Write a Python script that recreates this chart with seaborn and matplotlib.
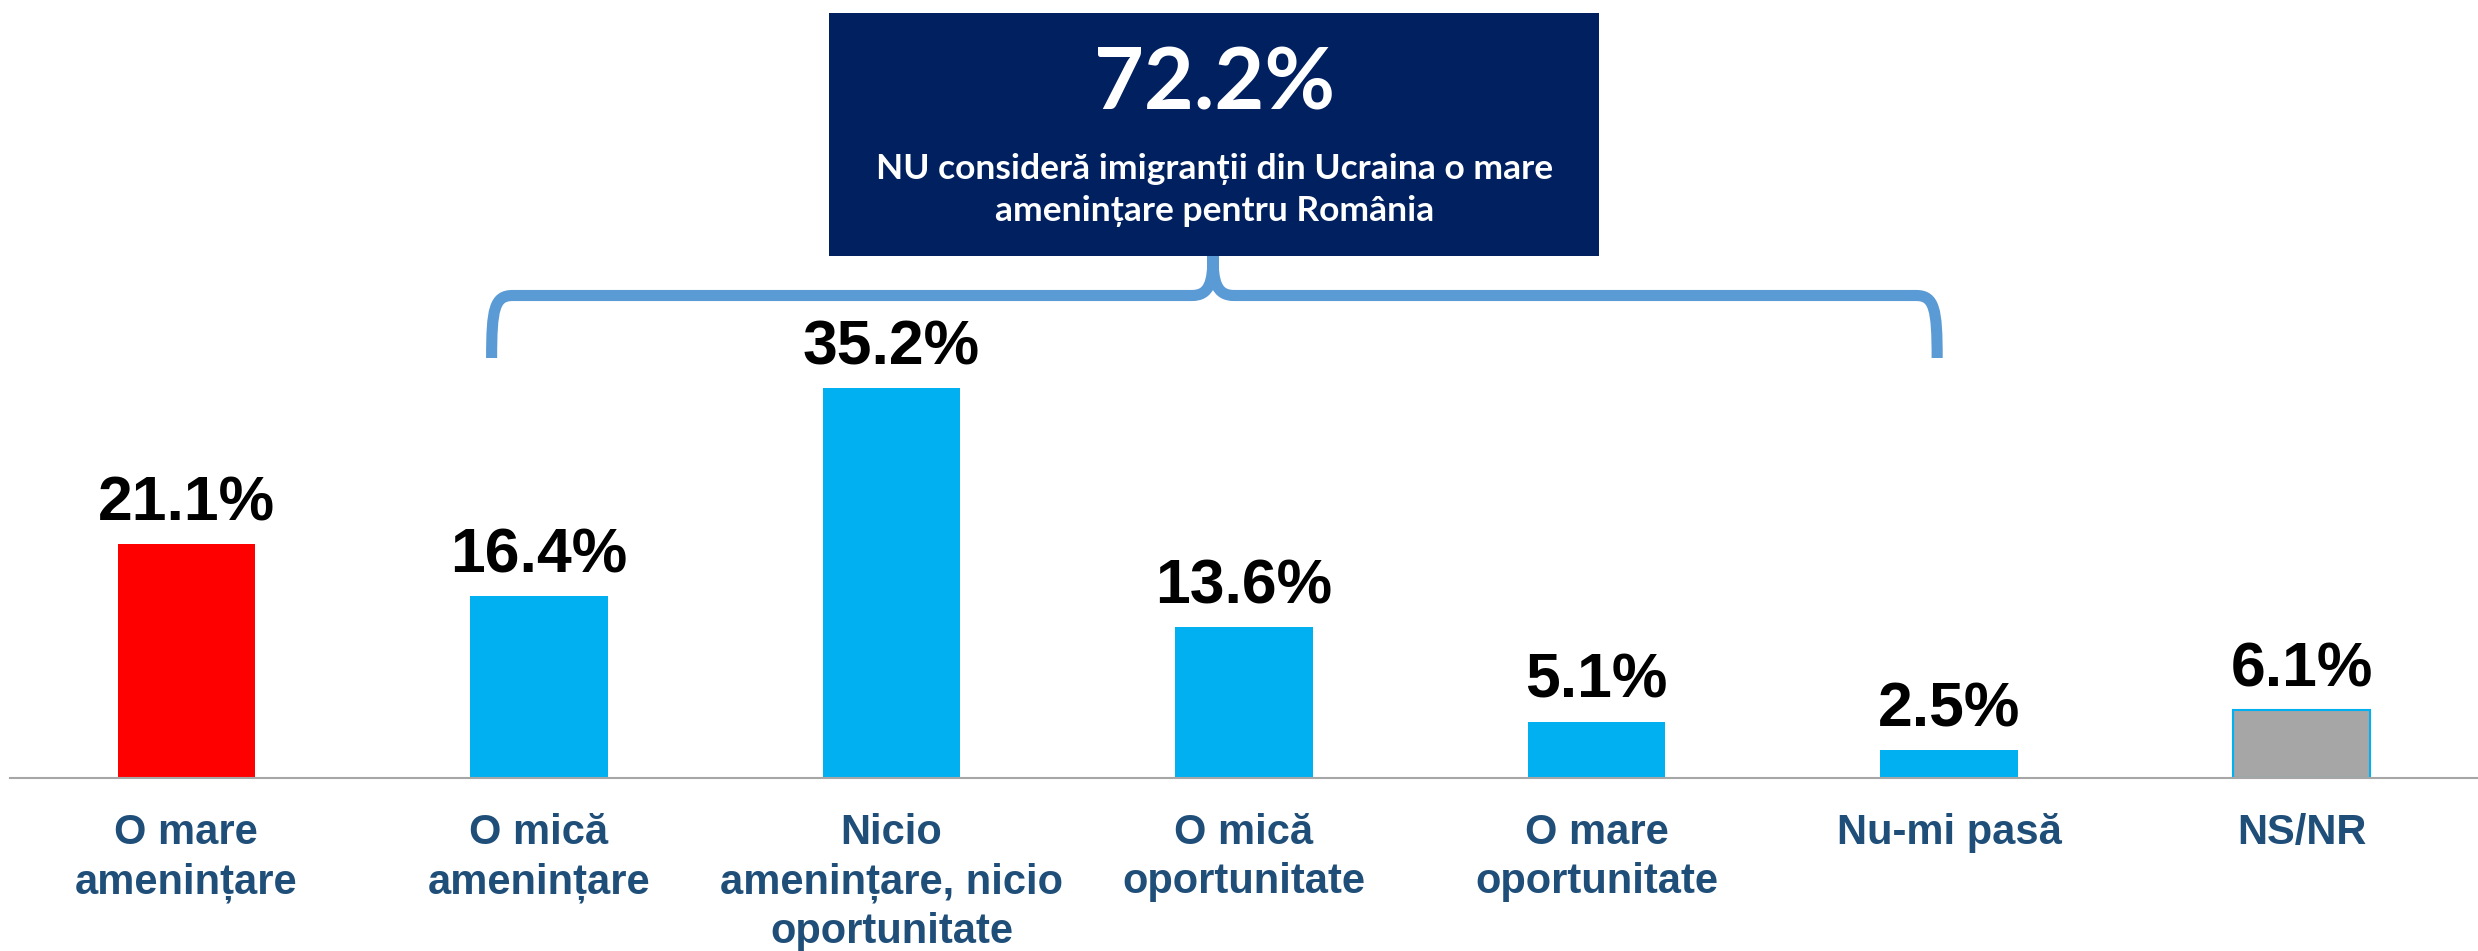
import numpy as np
import matplotlib
matplotlib.use("Agg")
import matplotlib.pyplot as plt
from matplotlib.path import Path
from matplotlib.patches import PathPatch, Rectangle
import seaborn as sns

# ------------------------------- data ----------------------------------
categories = [
    "O mare amenințare",
    "O mică amenințare",
    "Nicio amenințare, nicio oportunitate",
    "O mică oportunitate",
    "O mare oportunitate",
    "Nu-mi pasă",
    "NS/NR",
]
tick_labels = [
    "O mare\namenințare",
    "O mică\namenințare",
    "Nicio\namenințare, nicio\noportunitate",
    "O mică\noportunitate",
    "O mare\noportunitate",
    "Nu-mi pasă",
    "NS/NR",
]
values = [21.1, 16.4, 35.2, 13.6, 5.1, 2.5, 6.1]
bar_colors = ["#FF0000", "#00B0F0", "#00B0F0", "#00B0F0", "#00B0F0", "#00B0F0", "#A6A6A6"]

summary_value = "72.2%"
summary_text = "NU consideră imigranții din Ucraina o mare\namenințare pentru România"
# brace spans the "not a big threat" group (index 1..5)
brace_first, brace_last = 1, 5

# ----------------------------- style -----------------------------------
AXIS_GREY = "#A6A6A6"
LABEL_BLUE = "#1F4E79"
NAVY = "#002060"
BRACE_BLUE = "#5B9BD5"

sns.set_style("white")
plt.rcParams["font.family"] = ["Liberation Sans", "DejaVu Sans"]

W, H, DPI = 2478, 951, 100
fig = plt.figure(figsize=(W / DPI, H / DPI), dpi=DPI)
axis_y_px = 778
ax = fig.add_axes([10 / W, (H - axis_y_px) / H, 2468 / W, axis_y_px / H])

sns.barplot(
    x=categories, y=values, hue=categories, palette=bar_colors,
    saturation=1, width=0.39, legend=False, ax=ax,
)

# NS/NR bar has a thin blue outline
for patch in ax.patches:
    patch.set_linewidth(0)
last = max(ax.patches, key=lambda p: p.get_x())
last.set_edgecolor("#00B0F0")
last.set_linewidth(1.5)

for cont in ax.containers:
    ax.bar_label(cont, fmt="%.1f%%", padding=8, fontsize=45,
                 fontweight="bold", color="black")

px_per_unit = 11.07
ax.set_ylim(0, axis_y_px / px_per_unit)
ax.set_xlim(-0.5, len(categories) - 0.5)
ax.set_yticks([])
ax.set_ylabel("")
ax.set_xlabel("")

ax.set_xticks(range(len(categories)))
ax.set_xticklabels(tick_labels, fontsize=30, fontweight="bold",
                   color=LABEL_BLUE, linespacing=1.3)
ax.set_xticks(np.arange(-0.5, len(categories), 1), minor=True)
ax.tick_params(axis="x", which="major", length=0, pad=25)
ax.tick_params(axis="x", which="minor", length=8.6, width=1.0,
               color=AXIS_GREY, direction="out")

for side in ["top", "left", "right"]:
    ax.spines[side].set_visible(False)
ax.spines["bottom"].set_color(AXIS_GREY)
ax.spines["bottom"].set_linewidth(1.5)


def ypx(p):
    return (axis_y_px - p) / px_per_unit


# ----------------------------- summary box ------------------------------
box_x0, box_x1 = 1.824, 4.008
box_y0, box_y1 = ypx(256), ypx(13)
ax.add_patch(Rectangle((box_x0, box_y0), box_x1 - box_x0, box_y1 - box_y0,
                       facecolor=NAVY, edgecolor="none", clip_on=False, zorder=3))
box_cx = (box_x0 + box_x1) / 2
ax.text(box_cx, ypx(110), summary_value, ha="center", va="baseline",
        fontsize=62, fontweight="bold", color="white",
        family=["Lato", "DejaVu Sans"], zorder=4, clip_on=False)
ax.text(box_cx, ypx(190), summary_text, ha="center", va="center",
        fontsize=25.5, fontweight="bold", color="white", linespacing=1.35,
        family=["Lato", "DejaVu Sans"], zorder=4, clip_on=False)

# ------------------------------- brace ----------------------------------
xl = brace_first - 0.134
xr = brace_last - 0.034
xm = 2.912
y_h = ypx(295.5)
y_leg = ypx(358)
y_top = box_y0
dx, dy = 0.06, 1.2
verts = [
    (xl, y_leg), (xl, y_h - dy), (xl + 0.008, y_h), (xl + dx, y_h),
    (xm - dx, y_h),
    (xm - 0.01, y_h), (xm, y_h + dy), (xm, y_top),
    (xm, y_h + dy), (xm + 0.01, y_h), (xm + dx, y_h),
    (xr - dx, y_h),
    (xr - 0.008, y_h), (xr, y_h - dy), (xr, y_leg),
]
codes = [
    Path.MOVETO, Path.CURVE4, Path.CURVE4, Path.CURVE4,
    Path.LINETO,
    Path.CURVE4, Path.CURVE4, Path.CURVE4,
    Path.CURVE4, Path.CURVE4, Path.CURVE4,
    Path.LINETO,
    Path.CURVE4, Path.CURVE4, Path.CURVE4,
]
ax.add_patch(PathPatch(Path(verts, codes), facecolor="none",
                       edgecolor=BRACE_BLUE, linewidth=8,
                       capstyle="butt", joinstyle="round",
                       clip_on=False, zorder=2))

fig.savefig("out.png", dpi=DPI)
